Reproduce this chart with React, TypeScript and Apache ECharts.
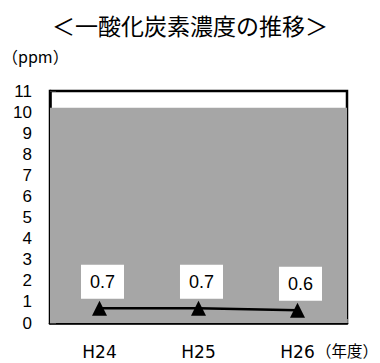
import React, { useEffect, useRef } from "react";
import * as echarts from "echarts";

// Fiscal years (Heisei) and annual CO concentration (ppm)
const years = ["H24", "H25", "H26"];
const coValues = [0.7, 0.7, 0.6];

// Environmental standard band shaded behind the line (ppm)
const standardBand = [0, 10.2];

// Y axis range
const yMin = 0;
const yMax = 11;
const yInterval = 1;

const titleText = "＜一酸化炭素濃度の推移＞";
const unitText = "（ppm）";
const yearUnitText = "（年度）";

const LATIN = "'Liberation Sans', Arial, sans-serif";
const CJK = "'Noto Sans CJK JP', 'Liberation Sans', sans-serif";

export default function App() {
  const ref = useRef<HTMLDivElement>(null);

  useEffect(() => {
    if (!ref.current) return;
    const chart = echarts.init(ref.current, undefined, { renderer: "svg" });

    chart.setOption({
      animation: false,
      backgroundColor: "#ffffff",
      title: {
        text: titleText,
        left: "center",
        top: 8,
        textStyle: {
          fontFamily: CJK,
          fontSize: 23,
          fontWeight: "normal",
          color: "#000",
        },
      },
      graphic: [
        {
          type: "text",
          left: 2,
          top: 48,
          style: {
            text: unitText,
            font: `16px ${CJK}`,
            fill: "#000",
          },
        },
        {
          type: "text",
          left: 316,
          top: 342,
          style: {
            text: yearUnitText,
            font: `15.5px ${CJK}`,
            fill: "#000",
          },
        },
      ],
      grid: {
        left: 50,
        right: 33,
        top: 91,
        bottom: 40,
        show: true,
        backgroundColor: "#ffffff",
        borderColor: "#000",
        borderWidth: 2.5,
      },
      xAxis: {
        type: "category",
        data: years,
        boundaryGap: true,
        axisLine: { show: true, lineStyle: { color: "#000", width: 2.5 } },
        axisTick: {
          show: true,
          inside: true,
          length: 4,
          lineStyle: { color: "#777", width: 1 },
        },
        axisLabel: {
          margin: 20,
          fontFamily: "'DejaVu Sans', sans-serif",
          fontSize: 17,
          color: "#000",
        },
        splitLine: { show: false },
      },
      yAxis: {
        type: "value",
        min: yMin,
        max: yMax,
        interval: yInterval,
        axisLine: { show: true, lineStyle: { color: "#000", width: 2.5 } },
        axisTick: {
          show: true,
          inside: true,
          length: 6,
          lineStyle: { color: "#333", width: 1 },
        },
        axisLabel: {
          margin: 18,
          fontFamily: LATIN,
          fontSize: 17,
          color: "#000",
        },
        splitLine: { show: false },
      },
      series: [
        {
          type: "line",
          data: coValues,
          symbol: "triangle",
          symbolSize: 15,
          z: 5,
          itemStyle: { color: "#000" },
          lineStyle: { color: "#000", width: 2.5 },
          label: {
            show: true,
            position: "top",
            distance: 2,
            offset: [3, 0],
            formatter: (p: any) => p.value.toFixed(1),
            backgroundColor: "#ffffff",
            padding: [8, 9, 8, 9],
            fontFamily: LATIN,
            fontSize: 18,
            color: "#000",
          },
          markArea: {
            silent: true,
            itemStyle: { color: "#a6a6a6" },
            data: [[{ yAxis: standardBand[0] }, { yAxis: standardBand[1] }]],
          },
        },
      ],
    });

    return () => chart.dispose();
  }, []);

  return (
    <div
      ref={ref}
      style={{ position: "fixed", left: 0, top: 0, width: 380, height: 363 }}
    />
  );
}
